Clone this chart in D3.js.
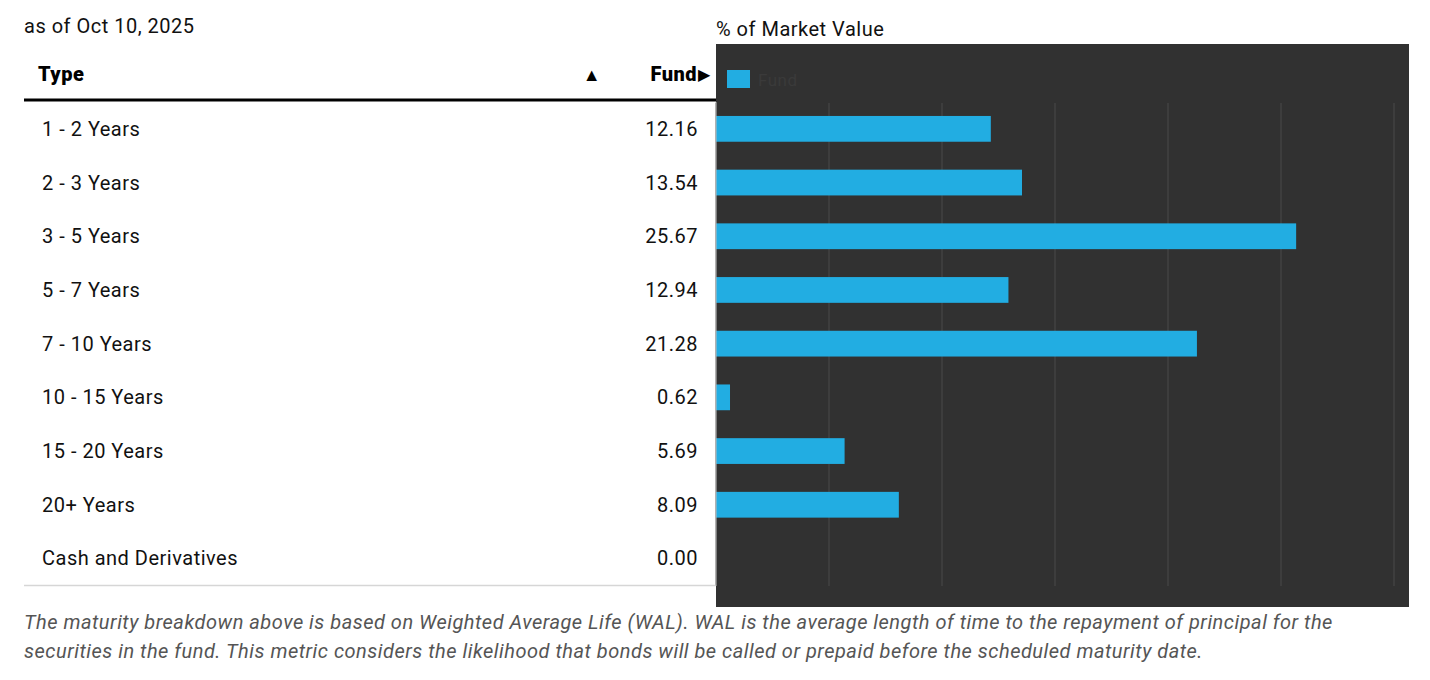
<!DOCTYPE html>
<html>
<head>
<meta charset="utf-8">
<script src="https://cdn.jsdelivr.net/npm/d3@7/dist/d3.min.js"></script>
<style>
  body { margin: 0; background: #fff; }
  svg text { font-family: "Roboto", "Liberation Sans", sans-serif; letter-spacing: 0.5px; }
</style>
</head>
<body>
<div id="chart"></div>
<script>
// maturity breakdown data
var categories = ["1 - 2 Years", "2 - 3 Years", "3 - 5 Years", "5 - 7 Years", "7 - 10 Years",
                  "10 - 15 Years", "15 - 20 Years", "20+ Years", "Cash and Derivatives"];
var fundValues = [12.16, 13.54, 25.67, 12.94, 21.28, 0.62, 5.69, 8.09, 0.00];
var xTicks = [0, 5, 10, 15, 20, 25, 30];

var width = 1430, height = 680;
var svg = d3.select("#chart").append("svg")
    .attr("width", width).attr("height", height);

var rowTop = 102, rowStep = 53.7;
var y = d3.scaleBand()
    .domain(categories)
    .range([rowTop, rowTop + rowStep * categories.length])
    .paddingInner(0.52).paddingOuter(0.26);

var x = d3.scaleLinear().domain([0, 30]).range([716, 1394]);

// date line
svg.append("text").attr("x", 24).attr("y", 33)
    .attr("font-size", 20).attr("fill", "#111")
    .text("as of Oct 10, 2025");

// table header
svg.append("text").attr("x", 38).attr("y", 81)
    .attr("font-size", 20).attr("font-weight", 900).attr("fill", "#000")
    .text("Type");
svg.append("text").attr("x", 592).attr("y", 81).attr("text-anchor", "middle")
    .attr("font-size", 18).attr("fill", "#000").text("\u25B2");
svg.append("text").attr("x", 697).attr("y", 81).attr("text-anchor", "end")
    .attr("font-size", 20).attr("font-weight", 900).attr("fill", "#000")
    .text("Fund");
svg.append("text").attr("x", 698).attr("y", 80)
    .attr("font-size", 16).attr("fill", "#000").text("\u25B6");

// rows
var rows = svg.append("g");
categories.forEach(function (c, i) {
    var cy = y(c) + y.bandwidth() / 2;
    rows.append("text").attr("x", 42).attr("y", cy + 7)
        .attr("font-size", 20).attr("fill", "#111").text(c);
    rows.append("text").attr("x", 698).attr("y", cy + 7).attr("text-anchor", "end")
        .attr("font-size", 20).attr("fill", "#111").text(fundValues[i].toFixed(2));
});

// chart panel
svg.append("text").attr("x", 716).attr("y", 36)
    .attr("font-size", 20).attr("fill", "#111").text("% of Market Value");
svg.append("rect").attr("x", 716).attr("y", 44)
    .attr("width", 693).attr("height", 563).attr("fill", "#313131");

// gridlines
svg.append("g").selectAll("line").data(xTicks).join("line")
    .attr("x1", function (d) { return x(d); }).attr("x2", function (d) { return x(d); })
    .attr("y1", 103).attr("y2", 586)
    .attr("stroke", "#4b4b4b").attr("stroke-width", 1);

// legend
svg.append("rect").attr("x", 727).attr("y", 70).attr("width", 23).attr("height", 18)
    .attr("fill", "#22ade2");
svg.append("text").attr("x", 758).attr("y", 86)
    .attr("font-size", 17).attr("fill", "#3a3a3a").text("Fund");

// bars
svg.append("g").selectAll("rect").data(fundValues).join("rect")
    .attr("x", x(0))
    .attr("y", function (d, i) { return y(categories[i]); })
    .attr("width", function (d) { return x(d) - x(0); })
    .attr("height", y.bandwidth())
    .attr("fill", "#22ade2");

// table lines
svg.append("line").attr("x1", 24).attr("x2", 716).attr("y1", 100).attr("y2", 100)
    .attr("stroke", "#000").attr("stroke-width", 3);
svg.append("line").attr("x1", 24).attr("x2", 716).attr("y1", 585.5).attr("y2", 585.5)
    .attr("stroke", "#d6d6d6").attr("stroke-width", 1.5);
svg.append("line").attr("x1", 716).attr("x2", 716).attr("y1", 102).attr("y2", 586)
    .attr("stroke", "#bdbdbd").attr("stroke-width", 1);

// footnote
var note = svg.append("text").attr("font-size", 20).attr("font-style", "italic").attr("fill", "#555");
note.append("tspan").attr("x", 24).attr("y", 629)
    .text("The maturity breakdown above is based on Weighted Average Life (WAL). WAL is the average length of time to the repayment of principal for the");
note.append("tspan").attr("x", 24).attr("y", 658)
    .text("securities in the fund. This metric considers the likelihood that bonds will be called or prepaid before the scheduled maturity date.");
</script>
</body>
</html>
